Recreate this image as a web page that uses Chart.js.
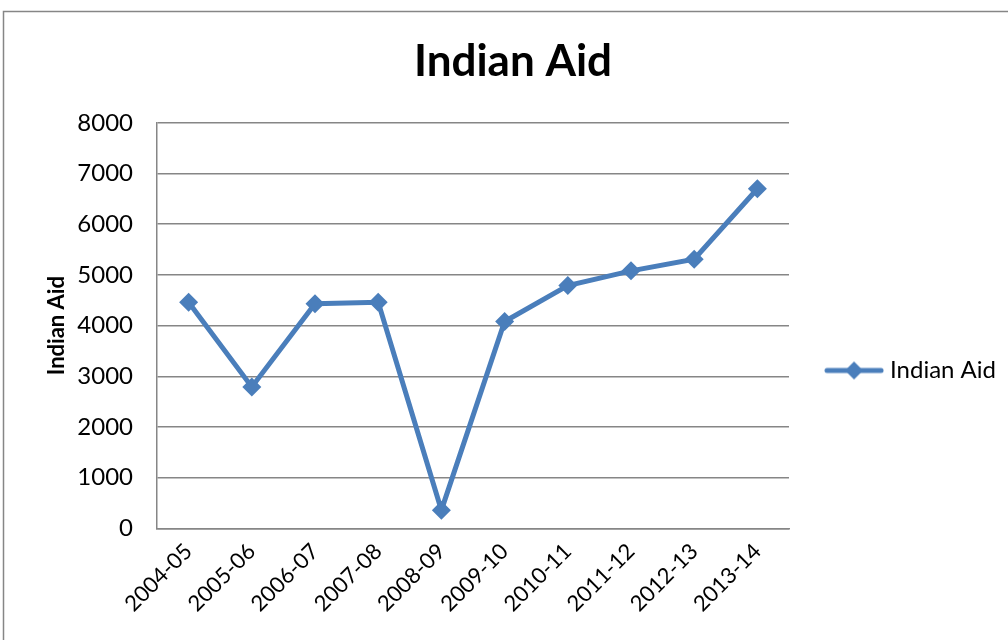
<!DOCTYPE html>
<html>
<head>
<meta charset="utf-8">
<script src="https://cdn.jsdelivr.net/npm/chart.js@4"></script>
<style>
  body { margin: 0; background: #fff; }
  #chart { display: block; }
</style>
</head>
<body>
<canvas id="chart" width="1008" height="640"></canvas>
<script>
const years = ['2004-05', '2005-06', '2006-07', '2007-08', '2008-09', '2009-10', '2010-11', '2011-12', '2012-13', '2013-14'];
const aid = [4460, 2790, 4430, 4460, 360, 4080, 4790, 5080, 5310, 6700];
const yTicks = [0, 1000, 2000, 3000, 4000, 5000, 6000, 7000, 8000];

const blue = '#4a7ebb';
const grey = '#868686';
const font = 'Lato, "Open Sans", sans-serif';

// legend swatch: line with a diamond in the middle
function legendSwatch() {
    const c = document.createElement('canvas');
    c.width = 60;
    c.height = 20;
    const g = c.getContext('2d');
    g.strokeStyle = blue;
    g.lineWidth = 5;
    g.lineCap = 'round';
    g.beginPath();
    g.moveTo(3, 10);
    g.lineTo(57, 10);
    g.stroke();
    g.fillStyle = blue;
    g.beginPath();
    g.moveTo(30, 1);
    g.lineTo(39, 10);
    g.lineTo(30, 19);
    g.lineTo(21, 10);
    g.closePath();
    g.fill();
    return c;
}

// outer frame of the chart
const frame = {
    id: 'frame',
    beforeDraw(chart) {
        const ctx = chart.ctx;
        ctx.save();
        ctx.strokeStyle = grey;
        ctx.lineWidth = 1.5;
        ctx.strokeRect(3.5, 11.5, 1100, 700);
        ctx.restore();
    }
};

// legend sits a bit lower than the middle of the plot, like in excel
const legendDown = {
    id: 'legendDown',
    afterLayout(chart) {
        chart.legend.top += 52;
        chart.legend.bottom += 52;
    }
};

const swatch = legendSwatch();

new Chart(document.getElementById('chart'), {
    type: 'line',
    data: {
        labels: years,
        datasets: [{
            label: 'Indian Aid',
            data: aid,
            borderColor: blue,
            backgroundColor: blue,
            borderWidth: 5,
            pointStyle: 'rectRot',
            pointRadius: 9.5,
            pointHoverRadius: 9.5,
            pointBackgroundColor: blue,
            pointBorderColor: blue,
            pointBorderWidth: 0,
            tension: 0
        }]
    },
    options: {
        responsive: false,
        devicePixelRatio: 1,
        animation: false,
        layout: {
            padding: {left: 20, top: 10, right: 2, bottom: 13}
        },
        plugins: {
            title: {
                display: true,
                text: 'Indian Aid',
                color: '#000',
                font: {family: font, size: 44, weight: 'bold'},
                padding: {top: 25, bottom: 35}
            },
            legend: {
                position: 'right',
                labels: {
                    usePointStyle: true,
                    pointStyle: swatch,
                    pointStyleWidth: 48,
                    padding: 41,
                    color: '#000',
                    font: {family: font, size: 24}
                }
            },
            tooltip: {enabled: false}
        },
        scales: {
            x: {
                offset: true,
                grid: {display: false, drawTicks: false},
                border: {display: true, color: grey, width: 1.5},
                ticks: {
                    color: '#000',
                    font: {family: font, size: 22},
                    minRotation: 45,
                    maxRotation: 45,
                    padding: 10
                }
            },
            y: {
                min: 0,
                max: 8000,
                afterBuildTicks(axis) {
                    axis.ticks = yTicks.map(v => ({value: v}));
                },
                afterFit(axis) {
                    axis.width = 137;
                },
                grid: {color: grey, lineWidth: 1.5, drawTicks: false},
                border: {display: true, color: grey, width: 1.5},
                ticks: {
                    color: '#000',
                    font: {family: font, size: 24},
                    padding: 24,
                    callback: v => String(v)
                },
                title: {
                    display: true,
                    text: 'Indian Aid',
                    color: '#000',
                    font: {family: font, size: 22, weight: 'bold'},
                    padding: {top: 24, bottom: 0}
                }
            }
        }
    },
    plugins: [frame, legendDown]
});
</script>
</body>
</html>
